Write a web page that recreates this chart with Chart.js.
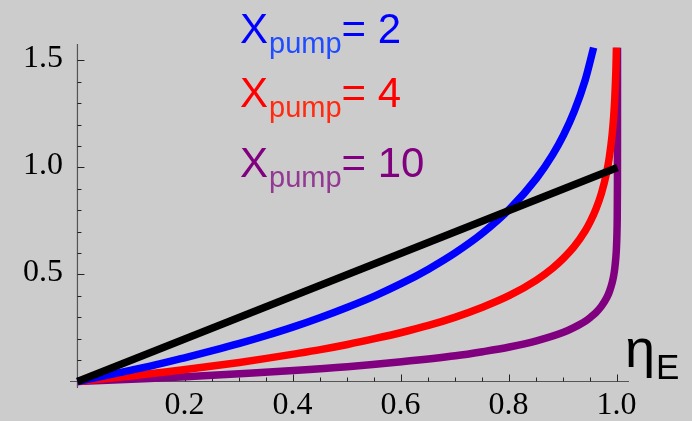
<!DOCTYPE html>
<html>
<head>
<meta charset="utf-8">
<script src="https://cdn.jsdelivr.net/npm/chart.js@4.4.1/dist/chart.umd.min.js"></script>
<style>
    html, body { margin: 0; padding: 0; background: #cccccc; }
    canvas { display: block; }
</style>
</head>
<body>
<canvas id="effChart" width="692" height="421"></canvas>
<script>
// Abscisses / ordonnées de chaque courbe
const diagX = [0, 1];
const diagY = [0, 1];

const pump2X = [0, 0.05, 0.1, 0.15, 0.2, 0.25, 0.3, 0.35, 0.4, 0.45, 0.5, 0.55, 0.6, 0.65, 0.7, 0.75, 0.8, 0.85, 0.88, 0.9, 0.92, 0.94, 0.9558];
const pump2Y = [0, 0.026, 0.053, 0.081, 0.112, 0.144, 0.178, 0.215, 0.255, 0.299, 0.347, 0.399, 0.458, 0.525, 0.602, 0.693, 0.805, 0.949, 1.060, 1.151, 1.263, 1.407, 1.56];

const pump4X = [0, 0.05, 0.1, 0.15, 0.2, 0.25, 0.3, 0.35, 0.4, 0.45, 0.5, 0.55, 0.6, 0.65, 0.7, 0.75, 0.8, 0.85, 0.88, 0.9, 0.92, 0.94, 0.95, 0.96, 0.97, 0.98, 0.985, 0.99, 0.993, 0.995, 0.997, 0.99805];
const pump4Y = [0, 0.013, 0.026, 0.041, 0.056, 0.072, 0.089, 0.108, 0.128, 0.149, 0.173, 0.200, 0.229, 0.262, 0.301, 0.347, 0.402, 0.474, 0.530, 0.576, 0.631, 0.703, 0.749, 0.805, 0.877, 0.978, 1.050, 1.151, 1.240, 1.325, 1.452, 1.56];

const pump10X = [0, 0.1, 0.2, 0.3, 0.4, 0.5, 0.6, 0.7, 0.75, 0.8, 0.85, 0.9, 0.92, 0.94, 0.95, 0.96, 0.97, 0.98, 0.985, 0.99, 0.993, 0.995, 0.997, 0.998, 0.999, 0.9995, 0.9999, 0.99999, 0.999999, 1.0];
const pump10Y = [0, 0.011, 0.022, 0.036, 0.051, 0.069, 0.092, 0.120, 0.139, 0.161, 0.190, 0.230, 0.253, 0.281, 0.300, 0.322, 0.351, 0.391, 0.420, 0.461, 0.496, 0.530, 0.581, 0.621, 0.691, 0.760, 0.921, 1.151, 1.382, 1.56];

// Graduations
const xTicks = [0.2, 0.4, 0.6, 0.8, 1.0];
const xTickLabels = ['0.2', '0.4', '0.6', '0.8', '1.0'];
const xMinorTicks = [0.05, 0.1, 0.15, 0.25, 0.3, 0.35, 0.45, 0.5, 0.55, 0.65, 0.7, 0.75, 0.85, 0.9, 0.95];
const yTicks = [0.5, 1.0, 1.5];
const yTickLabels = ['0.5', '1.0', '1.5'];
const yMinorTicks = [0.1, 0.2, 0.3, 0.4, 0.6, 0.7, 0.8, 0.9, 1.1, 1.2, 1.3, 1.4];

// Légende
const legendValues = ['2', '4', '10'];
const legendColors = ['#0000ff', '#ff0000', '#800080'];
const legendSubColors = ['#1f4cff', '#ff2a10', '#933893'];

const toPoints = (xs, ys) => xs.map((x, i) => ({ x: x, y: ys[i] }));

// Axes façon Mathematica, qui se croisent à l'origine
const axesPlugin = {
    id: 'axesPlugin',
    beforeDatasetsDraw(chart) {
        const ctx = chart.ctx;
        const xs = chart.scales.x;
        const ys = chart.scales.y;
        const x0 = xs.getPixelForValue(0);
        const y0 = ys.getPixelForValue(0);
        const area = chart.chartArea;

        ctx.save();
        ctx.strokeStyle = '#555555';
        ctx.lineWidth = 1.2;
        ctx.beginPath();
        ctx.moveTo(area.left, y0);
        ctx.lineTo(area.right, y0);
        ctx.moveTo(x0, area.bottom);
        ctx.lineTo(x0, area.top);
        ctx.stroke();

        ctx.strokeStyle = '#222222';
        ctx.lineWidth = 1;
        ctx.beginPath();
        xTicks.forEach(v => {
            const px = Math.round(xs.getPixelForValue(v)) + 0.5;
            ctx.moveTo(px, y0); ctx.lineTo(px, y0 - 7);
        });
        xMinorTicks.forEach(v => {
            const px = Math.round(xs.getPixelForValue(v)) + 0.5;
            ctx.moveTo(px, y0); ctx.lineTo(px, y0 - 4);
        });
        yTicks.forEach(v => {
            const py = Math.round(ys.getPixelForValue(v)) + 0.5;
            ctx.moveTo(x0, py); ctx.lineTo(x0 + 7, py);
        });
        yMinorTicks.forEach(v => {
            const py = Math.round(ys.getPixelForValue(v)) + 0.5;
            ctx.moveTo(x0, py); ctx.lineTo(x0 + 4, py);
        });
        ctx.stroke();

        ctx.fillStyle = '#000000';
        ctx.font = '32px "Liberation Serif", "DejaVu Serif", serif';
        ctx.textBaseline = 'alphabetic';
        ctx.textAlign = 'center';
        xTicks.forEach((v, i) => {
            ctx.fillText(xTickLabels[i], xs.getPixelForValue(v) - 1, 414);
        });
        ctx.textAlign = 'right';
        yTicks.forEach((v, i) => {
            ctx.fillText(yTickLabels[i], 63, ys.getPixelForValue(v) + 7);
        });
        ctx.restore();
    },
    afterDraw(chart) {
        const ctx = chart.ctx;
        ctx.save();
        ctx.textBaseline = 'alphabetic';
        ctx.textAlign = 'left';

        // Étiquette de l'axe horizontal : ηE
        ctx.fillStyle = '#000000';
        ctx.font = '54px "Liberation Sans", Arial, sans-serif';
        ctx.fillText('η', 625, 367);
        ctx.font = '35px "Liberation Sans", Arial, sans-serif';
        ctx.fillText('E', 656, 379);

        // Légende X_pump = ...
        const baselines = [43, 107, 177];
        legendValues.forEach((val, i) => {
            let x = 240;
            const y = baselines[i];
            ctx.fillStyle = legendColors[i];
            ctx.font = '42px "Liberation Sans", Arial, sans-serif';
            ctx.fillText('X', x, y);
            x += ctx.measureText('X').width;
            ctx.fillStyle = legendSubColors[i];
            ctx.font = '29px "Liberation Sans", Arial, sans-serif';
            ctx.fillText('pump', x + 1, y + 10);
            x += ctx.measureText('pump').width + 1;
            ctx.fillStyle = legendColors[i];
            ctx.font = '42px "Liberation Sans", Arial, sans-serif';
            ctx.fillText('= ' + val, x, y);
        });
        ctx.restore();
    }
};

const lineSet = (label, xs, ys, color) => ({
    label: label,
    data: toPoints(xs, ys),
    borderColor: color,
    borderWidth: 7.5,
    pointRadius: 0,
    fill: false,
    cubicInterpolationMode: 'monotone'
});

const ctx = document.getElementById('effChart').getContext('2d');
const effChart = new Chart(ctx, {
    type: 'line',
    data: {
        datasets: [
            lineSet('diagonale', diagX, diagY, '#000000'),
            lineSet('Xpump = 2', pump2X, pump2Y, '#0000ff'),
            lineSet('Xpump = 4', pump4X, pump4Y, '#ff0000'),
            lineSet('Xpump = 10', pump10X, pump10Y, '#800080')
        ]
    },
    options: {
        responsive: false,
        animation: false,
        layout: {
            padding: { left: 70, right: 63, top: 44, bottom: 33 }
        },
        scales: {
            x: { type: 'linear', min: -0.0138, max: 1.0213, display: false },
            y: { type: 'linear', min: -0.0304, max: 1.577, display: false }
        },
        plugins: {
            legend: { display: false },
            tooltip: { enabled: false }
        }
    },
    plugins: [axesPlugin]
});
</script>
</body>
</html>
